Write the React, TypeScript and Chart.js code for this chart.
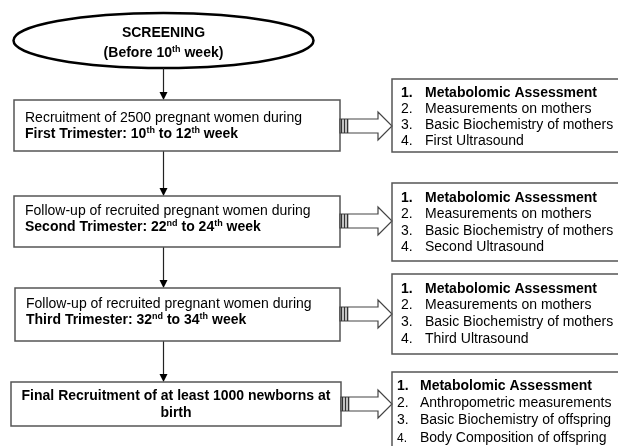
import React, { useEffect, useRef } from "react";
import { Chart, registerables } from "chart.js";

Chart.register(...registerables);

// ---------- content ----------
const screeningLines = ["**SCREENING", "**(Before 10^th^ week)"];

const stageLines = [
  ["Recruitment of 2500 pregnant women during", "**First Trimester: 10^th^ to 12^th^ week"],
  ["Follow-up of recruited pregnant women during", "**Second Trimester: 22^nd^ to 24^th^ week"],
  ["Follow-up of recruited pregnant women during", "**Third Trimester: 32^nd^ to 34^th^ week"],
  ["**Final Recruitment of at least 1000 newborns at", "**birth"],
];

const assessments1 = ["Metabolomic Assessment", "Measurements on mothers", "Basic Biochemistry of mothers", "First Ultrasound"];
const assessments2 = ["Metabolomic Assessment", "Measurements on mothers", "Basic Biochemistry of mothers", "Second Ultrasound"];
const assessments3 = ["Metabolomic Assessment", "Measurements on mothers", "Basic Biochemistry of mothers", "Third Ultrasound"];
const assessments4 = ["Metabolomic Assessment", "Anthropometric measurements", "Basic Biochemistry of offspring", "Body Composition of offspring"];
const assessmentLists = [assessments1, assessments2, assessments3, assessments4];

// ---------- layout (coordinate units of the hidden linear scales) ----------
const W = 618;
const H = 446;
const ELLIPSE = { cx: 163.5, cy: 40.5, rx: 150, ry: 27.5, rows: [32, 52] };
const BOXES = [
  { x0: 14, x1: 340, y0: 100, y1: 151, rows: [117, 133], tx: 25, center: false },
  { x0: 14, x1: 340, y0: 196, y1: 247, rows: [210, 226], tx: 25, center: false },
  { x0: 15, x1: 340, y0: 288, y1: 341, rows: [303, 319], tx: 26, center: false },
  { x0: 11, x1: 341, y0: 382, y1: 426, rows: [395, 412], tx: 176, center: true },
];
const PANELS = [
  { x0: 392, y0: 79, y1: 152, rows: [92, 108, 124, 140], numX: 401, textX: 425, closed: true },
  { x0: 392, y0: 183, y1: 261, rows: [197, 213, 230, 246], numX: 401, textX: 425, closed: true },
  { x0: 392, y0: 274, y1: 354, rows: [288, 304, 321, 338], numX: 401, textX: 425, closed: true },
  { x0: 392, y0: 372, y1: 470, rows: [385, 402, 419, 437], numX: 397, textX: 420, closed: false },
];
const FAT_Y = [126, 221, 314, 404];
const ARROW_X = 163;

const FONT = '"Liberation Sans", Arial, Helvetica, sans-serif';

function drawRich(ctx: CanvasRenderingContext2D, line: string, x: number, baseline: number, center: boolean, size = 14) {
  let bold = false;
  let s = line;
  if (s.startsWith("**")) {
    bold = true;
    s = s.slice(2);
  }
  const parts = s.split("^");
  const segs = parts.map((t, i) => ({ t, sup: i % 2 === 1, w: 0 }));
  const fontFor = (sup: boolean) => `${bold ? "bold " : ""}${sup ? 9 : size}px ${FONT}`;
  let total = 0;
  segs.forEach((sg) => {
    ctx.font = fontFor(sg.sup);
    sg.w = ctx.measureText(sg.t).width;
    total += sg.w;
  });
  let cx = center ? x - total / 2 : x;
  ctx.textAlign = "left";
  ctx.textBaseline = "alphabetic";
  segs.forEach((sg) => {
    ctx.font = fontFor(sg.sup);
    ctx.fillText(sg.t, cx, sg.sup ? baseline - 5 : baseline);
    cx += sg.w;
  });
}

const flowPlugin = {
  id: "flow",
  afterDraw(chart: any) {
    const ctx: CanvasRenderingContext2D = chart.ctx;
    const xs = chart.scales.x;
    const ys = chart.scales.y;
    const X = (v: number) => xs.getPixelForValue(v);
    const Y = (v: number) => ys.getPixelForValue(v);
    ctx.save();
    ctx.fillStyle = "#ffffff";
    ctx.fillRect(0, 0, chart.width, chart.height);

    // ellipse
    ctx.beginPath();
    ctx.ellipse(X(ELLIPSE.cx), Y(ELLIPSE.cy), X(ELLIPSE.cx + ELLIPSE.rx) - X(ELLIPSE.cx), Y(ELLIPSE.cy + ELLIPSE.ry) - Y(ELLIPSE.cy), 0, 0, Math.PI * 2);
    ctx.lineWidth = 2.5;
    ctx.strokeStyle = "#000";
    ctx.stroke();
    ctx.fillStyle = "#000";
    screeningLines.forEach((ln, i) => drawRich(ctx, ln, X(ELLIPSE.cx), Y(ELLIPSE.rows[i] + 5), true));

    // down arrows
    const downStarts = [ELLIPSE.cy + ELLIPSE.ry, BOXES[0].y1, BOXES[1].y1, BOXES[2].y1];
    downStarts.forEach((ys0, i) => {
      const ye = BOXES[i].y0;
      ctx.beginPath();
      ctx.moveTo(X(ARROW_X) + 0.5, Y(ys0));
      ctx.lineTo(X(ARROW_X) + 0.5, Y(ye) - 6);
      ctx.lineWidth = 1.2;
      ctx.strokeStyle = "#222";
      ctx.stroke();
      ctx.beginPath();
      ctx.moveTo(X(ARROW_X) + 0.5, Y(ye));
      ctx.lineTo(X(ARROW_X) - 3.5, Y(ye) - 8);
      ctx.lineTo(X(ARROW_X) + 4.5, Y(ye) - 8);
      ctx.closePath();
      ctx.fillStyle = "#000";
      ctx.fill();
    });

    // boxes
    BOXES.forEach((b, i) => {
      ctx.lineWidth = 1.5;
      ctx.strokeStyle = "#555";
      ctx.strokeRect(X(b.x0), Y(b.y0), X(b.x1) - X(b.x0), Y(b.y1) - Y(b.y0));
      ctx.fillStyle = "#000";
      stageLines[i].forEach((ln, j) => drawRich(ctx, ln, X(b.tx), Y(b.rows[j] + 5), b.center));
    });

    // fat arrows
    BOXES.forEach((b, i) => {
      const yc = FAT_Y[i];
      const xa = b.x1;
      const xh = 378;
      const xt = PANELS[i].x0;
      ctx.beginPath();
      ctx.moveTo(X(xa), Y(yc - 7));
      ctx.lineTo(X(xh), Y(yc - 7));
      ctx.lineTo(X(xh), Y(yc - 14));
      ctx.lineTo(X(xt), Y(yc));
      ctx.lineTo(X(xh), Y(yc + 14));
      ctx.lineTo(X(xh), Y(yc + 7));
      ctx.lineTo(X(xa), Y(yc + 7));
      ctx.closePath();
      ctx.fillStyle = "#fff";
      ctx.fill();
      ctx.lineWidth = 1.2;
      ctx.strokeStyle = "#444";
      ctx.stroke();
      [1.5, 4.5, 7.5].forEach((dx) => {
        ctx.beginPath();
        ctx.moveTo(X(xa + dx), Y(yc - 7));
        ctx.lineTo(X(xa + dx), Y(yc + 7));
        ctx.lineWidth = 1.6;
        ctx.strokeStyle = "#333";
        ctx.stroke();
      });
    });

    // panels
    PANELS.forEach((p, i) => {
      ctx.lineWidth = 1.5;
      ctx.strokeStyle = "#555";
      if (p.closed) {
        ctx.strokeRect(X(p.x0), Y(p.y0), X(W + 20) - X(p.x0), Y(p.y1) - Y(p.y0));
      } else {
        ctx.beginPath();
        ctx.moveTo(X(W + 20), Y(p.y0));
        ctx.lineTo(X(p.x0), Y(p.y0));
        ctx.lineTo(X(p.x0), Y(p.y1));
        ctx.stroke();
      }
      ctx.fillStyle = "#000";
      assessmentLists[i].forEach((item, j) => {
        const bold = j === 0;
        const base = Y(p.rows[j] + 5);
        ctx.textAlign = "left";
        ctx.textBaseline = "alphabetic";
        const numSize = !p.closed && j === 3 ? 12 : 14;
        ctx.font = `${bold ? "bold " : ""}${numSize}px ${FONT}`;
        ctx.fillText(`${j + 1}.`, X(p.numX), base);
        ctx.font = `${bold ? "bold " : ""}14px ${FONT}`;
        ctx.fillText(item, X(p.textX), base);
      });
    });

    ctx.restore();
  },
};

export default function App() {
  const ref = useRef<HTMLCanvasElement | null>(null);
  useEffect(() => {
    document.body.style.margin = "0";
    const canvas = ref.current;
    if (!canvas) return;
    const anchors = [
      { x: ELLIPSE.cx, y: ELLIPSE.cy },
      ...BOXES.map((b) => ({ x: (b.x0 + b.x1) / 2, y: (b.y0 + b.y1) / 2 })),
    ];
    const chart = new Chart(canvas, {
      type: "scatter",
      data: {
        datasets: [
          { data: anchors, pointRadius: 0, showLine: false },
        ],
      },
      options: {
        responsive: false,
        animation: false,
        events: [],
        layout: { padding: 0 },
        plugins: { legend: { display: false }, tooltip: { enabled: false } },
        scales: {
          x: { type: "linear", min: 0, max: W, display: false },
          y: { type: "linear", min: 0, max: H, reverse: true, display: false },
        },
      },
      plugins: [flowPlugin],
    });
    return () => chart.destroy();
  }, []);
  return (
    <div style={{ position: "absolute", left: 0, top: 0, width: W, height: H, background: "#fff" }}>
      <canvas ref={ref} width={W} height={H} style={{ width: W, height: H, display: "block" }} />
    </div>
  );
}
